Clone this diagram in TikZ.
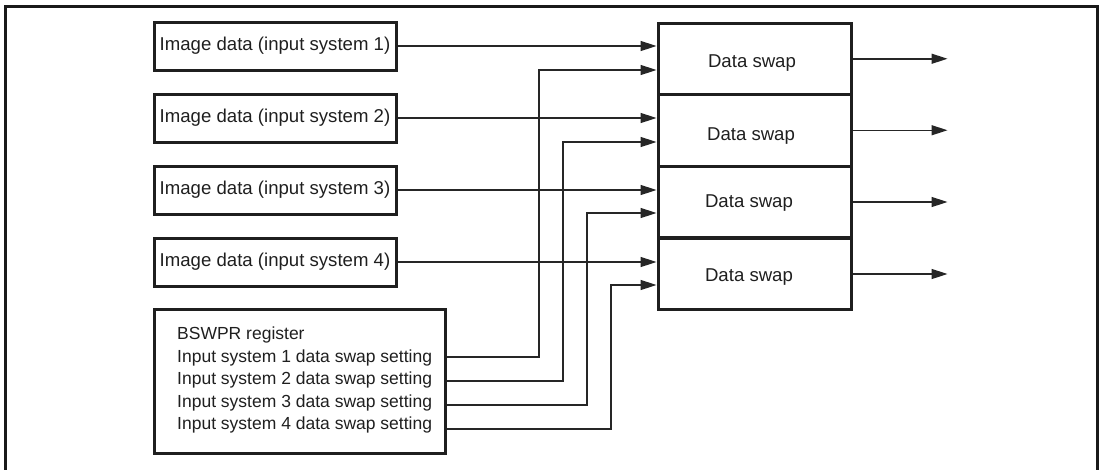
\documentclass[tikz,border=0pt]{standalone}
\usepackage{fontspec}
\setmainfont{Liberation Sans}
\usetikzlibrary{arrows.meta}
\begin{document}
\begin{tikzpicture}[x=1pt,y=-1pt,
  thickbox/.style={draw=black!88,line width=3pt,rectangle,inner sep=0pt},
  inbox/.style={thickbox,minimum width=242pt,minimum height=48pt},
  swapbox/.style={thickbox,minimum width=193pt,minimum height=71.5pt},
  lbl/.style={font=\fontsize{18.6}{22.5}\selectfont,text=black!88},
  reglbl/.style={font=\fontsize{17.5}{22.5}\selectfont,text=black!88},
  arr/.style={draw=black!85,line width=1.5pt,-{Triangle[length=16pt,width=10pt]}},
  ln/.style={draw=black!85,line width=1.5pt}]
\useasboundingbox (0,0) rectangle (1100,469);
\draw[line width=3pt,black!90] (5,480) -- (5,6) -- (1097,6) -- (1097,480);
% input boxes
\node[inbox,lbl] (in1) at (275,46) {Image data (input system 1)};
\node[inbox,lbl] (in2) at (275,118) {Image data (input system 2)};
\node[inbox,lbl] (in3) at (275,190) {Image data (input system 3)};
\node[inbox,lbl] (in4) at (275,262) {Image data (input system 4)};
% swap boxes
\node[swapbox] (ds1) at (754.5,58.75) {};
\node[swapbox] (ds2) at (754.5,130.25) {};
\node[swapbox] (ds3) at (754.5,202) {};
\node[swapbox] (ds4) at (754.5,274) {};
\node[lbl] (t1) at (752,63) {Data swap};
\node[lbl] (t2) at (751,136) {Data swap};
\node[lbl] (t3) at (749,203) {Data swap};
\node[lbl] (t4) at (749,277) {Data swap};
% BSWPR register
\node[thickbox,minimum width=291pt,minimum height=144pt] (bsw) at (299.5,381) {};
\node[reglbl,anchor=west,align=left,inner sep=0pt] (bswt) at (177,380)
  {BSWPR register\\Input system 1 data swap setting\\Input system 2 data swap setting\\Input system 3 data swap setting\\Input system 4 data swap setting};
% data arrows
\foreach \i in {1,2,3,4} {
  \draw[arr] (in\i.east) -- (in\i.east -| ds\i.west);
  \coordinate (o\i) at ([xshift=95pt]ds\i.east);
  \draw[arr] (ds\i.east) -- (o\i);
}
% setting connectors
\coordinate (s1) at (bsw.east |- 0,357);
\coordinate (s2) at (bsw.east |- 0,381);
\coordinate (s3) at (bsw.east |- 0,405);
\coordinate (s4) at (bsw.east |- 0,429);
\coordinate (c1) at (539,70);
\coordinate (c2) at (563,142);
\coordinate (c3) at (587,213);
\coordinate (c4) at (611,285);
\coordinate (e1) at (ds1.west |- c1);
\coordinate (e2) at (ds2.west |- c2);
\coordinate (e3) at (ds3.west |- c3);
\coordinate (e4) at (ds4.west |- c4);
\foreach \i in {1,2,3,4} {
  \draw[arr] (s\i) -| (c\i) -- (e\i);
}
\end{tikzpicture}
\end{document}
